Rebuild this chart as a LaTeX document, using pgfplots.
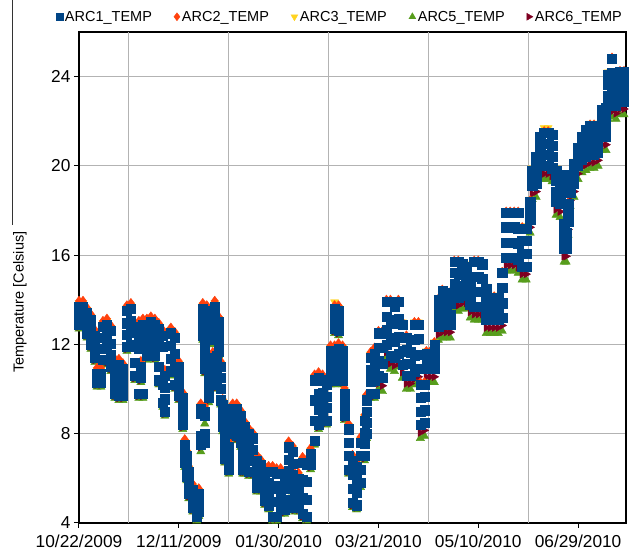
\documentclass[border=0pt]{standalone}
\usepackage{fontspec}
\setmainfont{Liberation Sans}
\usepackage{pgfplots}
\usepackage{pgfplotstable}
\pgfplotsset{compat=1.18}
\definecolor{c1}{HTML}{004586}
\definecolor{c2}{HTML}{FF420E}
\definecolor{c3}{HTML}{FFD320}
\definecolor{c4}{HTML}{579D1C}
\definecolor{c5}{HTML}{7E0021}
\definecolor{gridgray}{HTML}{B3B3B3}
\pgfplotstableread{
d b1 b2 b3 b4 o y g r
0 13.7 13.45 13.15 12.9 13.95 13.85 12.7 12.8
2 13.7 13.45 13.25 13.0 13.95 13.85 12.8 12.9
4 13.4 13.1 12.8 12.5 13.65 13.55 12.3 12.4
6 13.1 12.75 12.35 12.0 13.35 13.25 11.8 11.9
8 12.4 12.05 11.75 11.4 12.65 12.55 11.2 11.3
9 10.7 10.55 10.45 10.3 10.95 10.85 10.1 10.2
11 10.7 10.55 10.45 10.3 10.95 10.85 10.1 10.2
12 12.8 12.3 11.8 11.3 13.05 12.95 11.1 11.2
14 12.9 12.35 11.85 11.3 13.15 13.05 11.1 11.2
16 12.6 12.05 11.55 11.0 12.85 12.75 10.8 10.9
18 11.1 10.65 10.25 9.8 11.35 11.25 9.6 9.7
20 11.1 10.65 10.15 9.7 11.35 11.25 9.5 9.6
22 10.9 10.5 10.1 9.7 11.15 11.05 9.5 9.6
24 13.5 12.95 12.45 11.9 13.75 13.65 11.7 11.8
26 13.6 13.05 12.55 12.0 13.85 13.75 11.8 11.9
28 12.6 11.9 11.2 10.6 12.85 12.75 10.4 10.5
30 12.8 12.3 11.8 9.8 13.05 12.95 9.6 9.7
31 11.0 10.8 10.65 10.5 11.25 11.15 10.3 10.4
32 12.9 12.4 11.9 9.8 13.15 13.05 9.6 9.7
34 12.9 12.45 11.95 11.5 13.15 13.05 11.3 11.4
36 13.0 12.55 12.05 11.6 13.25 13.15 11.4 11.5
38 12.9 12.45 11.95 11.5 13.15 13.05 11.3 11.4
40 12.7 12.2 11.0 10.4 12.95 12.85 10.2 10.3
42 12.4 11.9 10.2 9.4 12.65 12.55 9.2 9.3
43 10.6 10.05 9.55 9.0 10.85 10.75 8.8 8.9
46 12.5 11.95 11.35 10.8 12.75 12.65 10.6 10.7
48 12.3 11.6 10.9 10.2 12.55 12.45 10.0 10.1
50 11.0 10.55 10.15 9.7 11.25 11.15 9.5 9.6
52 9.6 9.2 8.8 8.4 9.85 9.75 8.2 8.3
53 7.5 7.25 6.95 6.7 7.75 7.65 6.5 6.6
54 7.0 6.7 6.4 6.1 7.25 7.15 5.9 6.0
55 6.3 5.95 5.65 5.3 6.55 6.45 5.1 5.2
57 5.5 5.25 4.95 4.7 5.75 5.65 4.5 4.6
59 5.2 4.9 4.6 4.3 5.45 5.35 4.1 4.2
60 5.3 5.05 4.75 4.5 5.55 5.45 4.3 4.4
61 9.1 8.9 7.9 7.5 9.35 9.25 7.2 7.4
63 9.0 8.8 8.0 7.6 9.25 9.15 8.45 7.5
62 13.6 13.2 12.8 12.4 13.85 13.75 12.2 12.3
63 12.1 11.7 11.3 10.9 12.35 12.25 10.7 10.8
64 13.5 13.1 12.7 12.3 13.75 13.65 12.1 12.2
65 10.8 10.4 10.0 9.6 11.05 10.95 9.4 9.5
66 13.4 13.0 12.6 12.2 13.65 13.55 12.0 12.1
67 11.4 11.05 10.65 10.3 11.65 11.55 10.1 10.2
68 13.7 13.3 12.9 12.5 13.95 13.85 12.3 12.4
69 11.5 11.05 10.65 10.2 11.75 11.65 10.0 10.1
70 13.0 12.55 12.15 11.7 13.25 13.15 11.5 11.6
71 11.0 10.5 10.0 9.5 11.25 11.15 9.3 9.4
72 9.3 8.95 8.65 8.3 9.55 9.45 8.1 8.2
73 8.0 7.65 7.25 6.9 8.25 8.15 6.7 6.8
75 7.4 7.05 6.75 6.4 7.65 7.55 6.2 6.3
77 9.1 8.75 8.35 8.0 9.35 9.25 7.8 7.9
79 9.1 8.7 8.3 7.9 9.35 9.25 7.7 7.8
81 8.8 8.4 8.0 7.6 9.05 8.95 7.4 7.5
82 7.6 7.2 6.8 6.4 7.85 7.75 6.2 6.3
83 8.3 7.65 7.05 6.4 8.55 8.45 6.2 6.3
85 8.0 7.45 6.85 6.3 8.25 8.15 6.1 6.2
87 7.8 7.3 6.8 6.3 8.05 7.95 6.1 6.2
89 6.8 6.4 6.0 5.6 7.05 6.95 5.4 5.5
91 6.6 6.25 5.95 5.6 6.85 6.75 5.4 5.5
93 6.3 5.85 5.45 5.0 6.55 6.45 4.8 4.9
95 6.3 5.8 5.3 4.8 6.55 6.45 4.6 4.7
97 6.3 5.65 4.95 4.3 6.55 6.45 4.1 4.2
99 6.2 5.55 4.95 4.3 6.45 6.35 4.1 4.2
101 6.2 5.65 5.15 4.6 6.45 6.35 4.4 4.5
103 6.0 5.55 5.05 4.6 6.25 6.15 4.4 4.5
105 7.4 6.85 6.35 5.8 7.65 7.55 5.6 5.7
107 7.2 6.65 6.15 5.6 7.45 7.35 5.4 5.5
108 6.0 5.55 5.15 4.7 6.25 6.15 4.5 4.6
110 6.0 5.55 5.15 4.7 6.25 6.15 4.5 4.6
112 6.7 5.95 5.15 4.4 6.95 6.85 4.2 4.3
114 6.6 5.85 5.05 4.3 6.85 6.75 4.1 4.2
116 7.1 6.95 6.75 6.6 7.35 7.25 6.4 6.5
118 10.4 9.5 8.6 7.7 10.65 10.55 7.5 7.6
120 10.5 9.8 9.1 8.4 10.75 10.65 8.2 8.3
122 10.4 9.85 9.35 8.8 10.65 10.55 8.6 8.7
124 10.2 9.65 9.15 8.6 10.45 10.35 8.4 8.5
126 11.7 11.25 10.85 10.4 11.95 11.85 10.2 10.3
128 13.6 13.3 13.0 12.7 13.75 13.9 12.5 12.6
128 11.7 11.25 10.85 10.4 11.95 11.85 10.2 10.3
130 13.5 13.2 12.9 12.6 13.75 13.65 12.4 12.5
130 11.8 11.35 10.95 10.5 12.05 11.95 10.3 10.4
132 11.7 11.25 10.85 10.4 11.95 11.85 10.2 10.3
133 9.8 9.45 9.15 8.8 10.05 9.95 8.6 8.7
135 8.2 7.6 7.0 6.4 8.45 8.35 6.2 6.3
137 6.8 6.15 5.55 4.9 7.05 6.95 4.7 4.8
139 6.5 5.95 5.35 4.8 6.75 6.65 4.6 4.7
141 7.6 7.0 6.4 5.8 7.85 7.75 5.6 5.7
143 8.6 8.05 7.55 7.0 8.85 8.75 6.8 6.9
144 9.5 9.0 8.5 8.0 9.75 9.65 7.8 7.9
146 11.4 10.85 10.35 9.8 11.65 11.55 9.6 9.7
148 11.6 11.0 10.4 9.8 11.85 11.75 9.6 9.7
150 12.5 11.85 11.25 10.6 12.6 12.6 10.0 10.25
152 12.5 11.85 11.15 10.5 12.6 12.6 9.9 10.15
154 13.9 13.25 12.65 12.0 14.0 14.0 11.4 11.65
156 13.9 13.1 12.3 11.5 14.0 14.0 10.9 11.15
158 13.7 12.95 12.15 11.4 13.8 13.8 10.8 11.05
160 13.9 13.15 12.35 11.6 14.0 14.0 11.0 11.25
162 12.9 12.3 11.7 11.1 13.0 13.0 10.5 10.75
164 12.3 11.75 11.15 10.6 12.4 12.4 10.0 10.25
166 12.2 11.65 11.15 10.6 12.3 12.3 10.0 10.25
168 12.9 12.2 11.5 10.8 13.0 13.0 10.2 10.45
170 12.9 12.25 11.55 10.9 13.0 13.0 10.3 10.55
171 10.2 9.6 9.0 8.4 10.3 10.3 7.8 8.05
173 10.2 9.65 9.05 8.5 10.3 10.3 7.9 8.15
174 11.6 11.35 11.15 10.9 11.7 11.7 10.3 10.55
176 11.6 11.35 11.15 10.9 11.7 11.7 10.3 10.55
178 12.0 11.65 11.25 10.9 12.1 12.1 10.3 10.55
180 14.0 13.6 13.2 12.8 14.05 14.1 12.2 12.45
182 14.4 13.9 13.4 12.9 14.45 14.5 12.3 12.55
184 14.2 13.75 13.35 12.9 14.25 14.3 12.3 12.55
186 14.3 13.85 13.35 12.9 14.35 14.4 12.3 12.55
188 15.7 15.2 14.7 14.2 15.75 15.8 13.6 13.85
190 15.7 15.15 14.65 14.1 15.75 15.8 13.5 13.75
192 15.6 15.15 14.65 14.2 15.65 15.7 13.6 13.85
194 15.5 15.05 14.65 14.2 15.55 15.6 13.6 13.85
196 14.9 14.55 14.15 13.8 14.95 15.0 13.2 13.45
198 15.7 15.05 14.35 13.7 15.75 15.8 13.1 13.35
200 15.7 15.05 14.35 13.7 15.75 15.8 13.1 13.35
202 15.6 14.95 14.35 13.7 15.65 15.7 13.1 13.35
204 14.5 14.05 13.55 13.1 14.55 14.6 12.5 12.75
206 14.1 13.75 13.45 13.1 14.15 14.2 12.5 12.75
208 14.1 13.75 13.45 13.1 14.15 14.2 12.5 12.75
210 14.1 13.75 13.45 13.1 14.15 14.2 12.5 12.75
212 15.2 14.55 13.85 13.2 15.25 15.3 12.6 12.85
214 17.9 17.25 16.55 15.9 17.95 18.0 15.3 15.55
216 17.9 17.25 16.55 15.9 17.95 18.0 15.3 15.55
218 17.9 17.25 16.55 15.9 17.95 18.0 15.3 15.55
220 17.9 17.2 16.5 15.8 17.95 18.0 15.2 15.45
222 17.2 16.65 16.05 15.5 17.25 17.3 14.9 15.15
224 17.2 16.65 16.05 15.5 17.25 17.3 14.9 15.15
226 18.4 18.15 17.85 17.6 18.45 18.5 17.0 17.25
227 19.8 19.55 19.35 19.1 19.85 19.9 18.5 18.75
229 20.4 20.0 19.6 19.2 20.45 20.5 18.6 18.85
231 21.3 20.85 20.45 20.0 21.35 21.4 19.4 19.65
233 21.5 21.0 20.5 20.0 21.55 21.7 19.4 19.65
235 21.5 21.0 20.5 20.0 21.55 21.7 19.4 19.65
237 21.4 20.9 20.4 19.9 21.45 21.5 19.3 19.55
239 19.8 19.35 18.85 18.4 19.85 19.9 17.8 18.05
241 19.6 19.15 18.75 18.3 19.65 19.7 17.7 17.95
243 17.4 17.05 16.65 16.3 17.45 17.5 15.7 15.95
244 17.0 16.75 16.55 16.3 17.05 17.1 15.7 15.95
245 18.3 18.05 17.75 17.5 18.35 18.4 16.9 17.15
246 19.6 19.35 19.05 18.8 19.65 19.7 18.2 18.45
248 20.1 19.8 19.5 19.2 20.15 20.2 18.6 18.85
250 20.8 20.55 20.25 20.0 20.85 20.9 19.4 19.65
252 21.3 20.95 20.65 20.3 21.35 21.4 19.7 19.95
254 21.6 21.2 20.8 20.4 21.65 21.7 19.8 20.05
256 21.8 21.35 20.95 20.5 21.85 21.9 19.9 20.15
258 21.8 21.35 20.95 20.5 21.85 21.9 19.9 20.15
260 21.8 21.4 21.0 20.6 21.85 21.9 20.0 20.25
262 22.5 22.1 21.7 21.3 22.55 22.6 20.7 20.95
264 22.6 22.15 21.75 21.3 22.65 22.7 20.7 20.95
265 24.1 23.65 23.15 22.7 24.15 24.2 22.1 22.35
267 24.8 24.15 23.45 22.8 24.85 24.9 22.2 22.45
269 24.1 23.65 23.15 22.7 24.15 24.2 22.1 22.35
271 24.2 23.75 23.35 22.9 24.25 24.3 22.3 22.55
273 24.2 23.75 23.35 22.9 24.25 24.3 22.3 22.55
}\temps

\begin{document}
\begin{tikzpicture}
\useasboundingbox (-79pt,-31pt) rectangle (554pt,523pt);
\draw[line width=1pt, black!80] (-66pt,298pt) -- (-66pt,523pt);
\begin{axis}[
  at={(0pt,0pt)}, anchor=south west,
  scale only axis, width=547pt, height=491pt,
  xmin=0, xmax=274, ymin=4, ymax=26,
  xtick={0,50,100,150,200,250},
  xticklabels={10/22/2009,12/11/2009,01/30/2010,03/21/2010,05/10/2010,06/29/2010},
  ytick={4,8,12,16,20,24},
  extra x ticks={25,75,125,175,225},
  extra x tick labels={},
  extra x tick style={grid=major, major tick length=0pt},
  ymajorgrids,
  grid style={line width=1pt, gridgray},
  axis line style={line width=1.5pt, black},
  tick style={line width=1pt, black},
  tick align=outside, major tick length=5pt,
  xtick pos=bottom, ytick pos=left,
  /pgf/number format/assume math mode=true,
  ticklabel style={font=\fontsize{17.3}{20}\selectfont},
  xticklabel style={yshift=-3pt},
  ylabel={Temperature [Celsius]},
  ylabel style={at={(axis description cs:-0.108,0.45)}, anchor=center, font=\fontsize{14.5}{17}\selectfont},
  legend image code/.code={\draw[#1] plot coordinates {(0pt,0pt)};},
  legend columns=5,
  legend style={at={(axis description cs:0.477,1.031)}, anchor=center, draw=none, fill=none,
    font=\fontsize{14.5}{17}\selectfont,
    /tikz/every even column/.append style={column sep=20pt},
    nodes={inner xsep=2pt}},
  every axis plot/.append style={only marks},
]
\addlegendimage{mark=square*, c1, mark size=3.5pt}
\addlegendentry{ARC1\_TEMP}
\addlegendimage{mark=diamond*, c2, mark size=4pt}
\addlegendentry{ARC2\_TEMP}
\addlegendimage{mark=triangle*, c3, mark size=4pt, mark options={rotate=180}}
\addlegendentry{ARC3\_TEMP}
\addlegendimage{mark=triangle*, c4, mark size=4pt}
\addlegendentry{ARC5\_TEMP}
\addlegendimage{mark=triangle*, c5, mark size=4pt, mark options={rotate=-90}}
\addlegendentry{ARC6\_TEMP}

\addplot[forget plot, only marks, mark=triangle*, c4, mark size=4.8pt] table[x=d, y=g] {\temps};
\addplot[forget plot, only marks, mark=triangle*, c5, mark size=4.4pt, mark options={rotate=-90}] table[x=d, y=r] {\temps};
\addplot[forget plot, only marks, mark=triangle*, c3, mark size=4.6pt, mark options={rotate=180}] table[x=d, y=y] {\temps};
\addplot[forget plot, only marks, mark=diamond*, c2, mark size=4.8pt] table[x=d, y=o] {\temps};
\addplot[forget plot, only marks, mark=square*, c1, mark size=4.6pt] table[x=d, y=b4] {\temps};
\addplot[forget plot, only marks, mark=square*, c1, mark size=4.6pt] table[x=d, y=b3] {\temps};
\addplot[forget plot, only marks, mark=square*, c1, mark size=4.6pt] table[x=d, y=b2] {\temps};
\addplot[forget plot, only marks, mark=square*, c1, mark size=4.6pt] table[x=d, y=b1] {\temps};
\end{axis}
\end{tikzpicture}
\end{document}
